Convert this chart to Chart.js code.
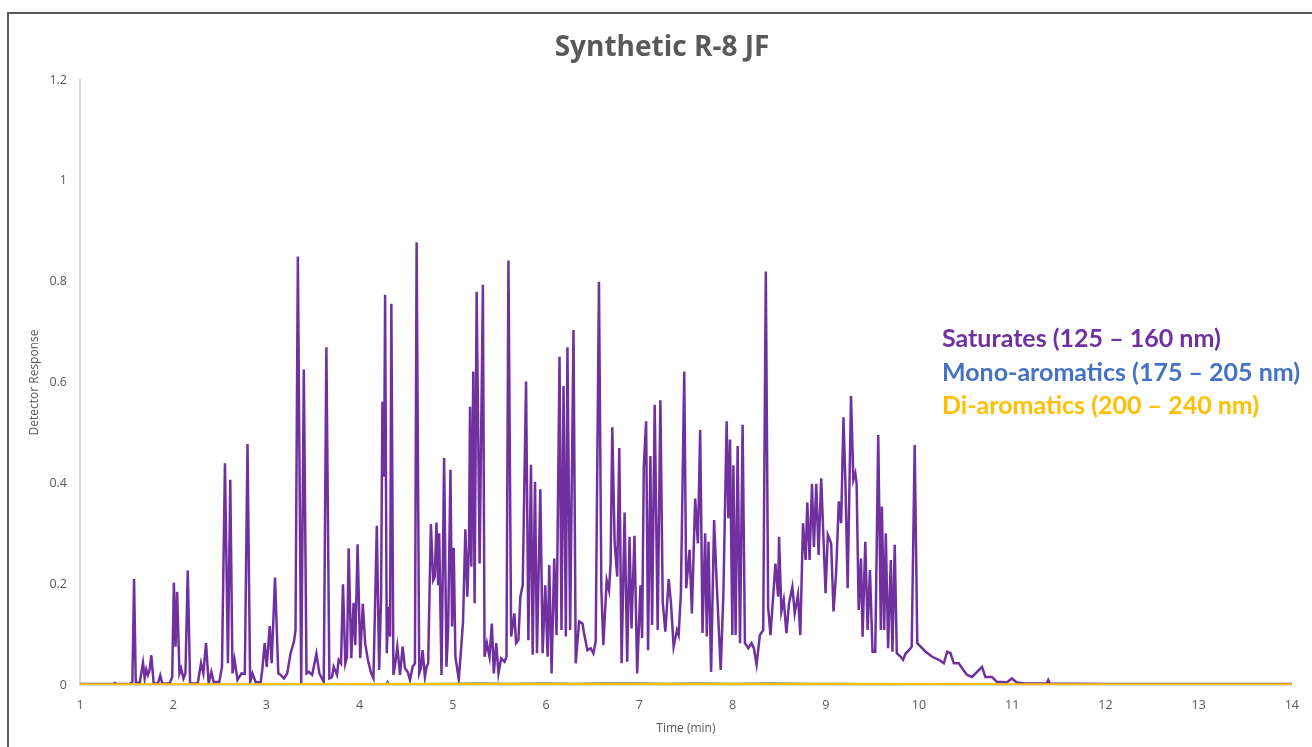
<!DOCTYPE html>
<html>
<head>
<meta charset="utf-8">
<script src="https://cdn.jsdelivr.net/npm/chart.js@4.4.1/dist/chart.umd.min.js"></script>
<style>
  html, body { margin: 0; padding: 0; background: #fff; }
  #wrap { position: relative; width: 1312px; height: 747px; overflow: hidden; }
  #frame { position: absolute; left: 7px; top: 12px; right: -10px; bottom: -10px;
           border-left: 2px solid #595959; border-top: 2px solid #595959; }
  #chartCanvas { position: absolute; left: 0; top: 0; }
  #title { position: absolute; left: 0; width: 1324px; top: 28px; text-align: center;
           font: bold 28px "Open Sans", sans-serif; color: #595959; line-height: 34px; }
  #legend { position: absolute; left: 942px; top: 321px;
            font: bold 25px Lato, "Open Sans", sans-serif; line-height: 33.5px; }
  #legend div { white-space: nowrap; }
</style>
</head>
<body>
<div id="wrap">
  <div id="frame"></div>
  <canvas id="chartCanvas" width="1312" height="747"></canvas>
  <div id="title">Synthetic R-8 JF</div>
  <div id="legend">
    <div style="color:#7030A0">Saturates (125 – 160 nm)</div>
    <div style="color:#4472C4">Mono-aromatics (175 – 205 nm)</div>
    <div style="color:#FFC000">Di-aromatics (200 – 240 nm)</div>
  </div>
</div>
<script>
// ---- data: time (min) -> detector response
const satTime = [
  1.000, 1.356, 1.374, 1.391, 1.534, 1.562, 1.580, 1.598, 1.640, 1.676,
  1.694, 1.711, 1.729, 1.747, 1.765, 1.790, 1.836, 1.861, 1.882, 1.961,
  1.989, 2.007, 2.025, 2.042, 2.067, 2.085, 2.110, 2.131, 2.156, 2.181,
  2.263, 2.298, 2.323, 2.352, 2.380, 2.409, 2.434, 2.494, 2.523, 2.555,
  2.587, 2.612, 2.636, 2.658, 2.690, 2.732, 2.768, 2.797, 2.825, 2.850,
  2.885, 2.939, 2.957, 2.981, 3.003, 3.035, 3.056, 3.092, 3.127, 3.152,
  3.188, 3.223, 3.259, 3.295, 3.312, 3.337, 3.373, 3.401, 3.430, 3.455,
  3.490, 3.536, 3.568, 3.615, 3.643, 3.675, 3.704, 3.721, 3.757, 3.775,
  3.800, 3.821, 3.846, 3.864, 3.882, 3.910, 3.935, 3.953, 3.978, 4.006,
  4.034, 4.059, 4.088, 4.123, 4.148, 4.184, 4.209, 4.230, 4.244, 4.262,
  4.273, 4.291, 4.308, 4.326, 4.340, 4.362, 4.380, 4.404, 4.433, 4.461,
  4.486, 4.515, 4.540, 4.568, 4.593, 4.611, 4.639, 4.657, 4.675, 4.700,
  4.718, 4.735, 4.764, 4.789, 4.806, 4.824, 4.842, 4.853, 4.878, 4.906,
  4.931, 4.949, 4.974, 4.991, 5.009, 5.027, 5.063, 5.091, 5.109, 5.134,
  5.155, 5.173, 5.184, 5.198, 5.219, 5.233, 5.255, 5.287, 5.322, 5.340,
  5.365, 5.393, 5.418, 5.439, 5.465, 5.489, 5.518, 5.554, 5.575, 5.596,
  5.625, 5.660, 5.678, 5.703, 5.724, 5.749, 5.785, 5.810, 5.838, 5.856,
  5.881, 5.902, 5.938, 5.963, 5.991, 6.016, 6.034, 6.059, 6.087, 6.112,
  6.144, 6.165, 6.187, 6.212, 6.229, 6.258, 6.294, 6.318, 6.354, 6.390,
  6.407, 6.443, 6.478, 6.507, 6.532, 6.567, 6.593, 6.614, 6.650, 6.675,
  6.692, 6.710, 6.735, 6.763, 6.785, 6.810, 6.842, 6.870, 6.895, 6.916,
  6.948, 6.977, 7.012, 7.030, 7.048, 7.073, 7.094, 7.119, 7.137, 7.165,
  7.197, 7.226, 7.251, 7.279, 7.315, 7.340, 7.368, 7.404, 7.422, 7.446,
  7.482, 7.503, 7.539, 7.564, 7.599, 7.628, 7.653, 7.678, 7.706, 7.724,
  7.742, 7.770, 7.802, 7.831, 7.873, 7.902, 7.937, 7.955, 7.973, 7.998,
  8.009, 8.033, 8.055, 8.080, 8.108, 8.133, 8.169, 8.204, 8.229, 8.258,
  8.293, 8.329, 8.357, 8.382, 8.407, 8.428, 8.460, 8.489, 8.499, 8.524,
  8.549, 8.578, 8.606, 8.642, 8.667, 8.702, 8.727, 8.756, 8.784, 8.802,
  8.827, 8.852, 8.873, 8.898, 8.923, 8.951, 8.998, 9.022, 9.058, 9.083,
  9.111, 9.140, 9.165, 9.190, 9.210, 9.235, 9.271, 9.296, 9.317, 9.331,
  9.353, 9.378, 9.395, 9.424, 9.449, 9.474, 9.502, 9.531, 9.563, 9.591,
  9.602, 9.627, 9.644, 9.669, 9.698, 9.715, 9.740, 9.762, 9.804, 9.829,
  9.858, 9.893, 9.922, 9.954, 9.982, 10.018, 10.071, 10.142, 10.213, 10.267,
  10.302, 10.338, 10.374, 10.427, 10.463, 10.516, 10.569, 10.623, 10.676, 10.712,
  10.783, 10.836, 10.889, 10.943, 10.996, 11.050, 11.138, 11.210, 11.370, 11.387,
  11.405, 12.000, 14.000
];
const satResp = [
  0.002, 0.002, 0.004, 0.002, 0.002, 0.006, 0.210, 0.006, 0.003, 0.044,
  0.013, 0.031, 0.020, 0.030, 0.059, 0.003, 0.003, 0.019, 0.003, 0.003,
  0.016, 0.203, 0.076, 0.185, 0.023, 0.033, 0.013, 0.023, 0.227, 0.003,
  0.003, 0.043, 0.023, 0.083, 0.003, 0.026, 0.006, 0.006, 0.036, 0.440,
  0.043, 0.407, 0.023, 0.050, 0.010, 0.023, 0.022, 0.478, 0.006, 0.023,
  0.005, 0.006, 0.033, 0.083, 0.036, 0.117, 0.043, 0.213, 0.023, 0.020,
  0.013, 0.023, 0.063, 0.086, 0.109, 0.850, 0.003, 0.626, 0.023, 0.026,
  0.020, 0.062, 0.023, 0.006, 0.670, 0.013, 0.016, 0.036, 0.020, 0.050,
  0.043, 0.200, 0.043, 0.056, 0.271, 0.053, 0.163, 0.079, 0.279, 0.053,
  0.161, 0.083, 0.050, 0.023, 0.013, 0.316, 0.030, 0.175, 0.562, 0.413,
  0.774, 0.063, 0.155, 0.096, 0.756, 0.020, 0.040, 0.076, 0.020, 0.076,
  0.033, 0.026, 0.010, 0.036, 0.043, 0.878, 0.023, 0.033, 0.069, 0.016,
  0.036, 0.043, 0.319, 0.208, 0.215, 0.322, 0.198, 0.301, 0.020, 0.450,
  0.036, 0.109, 0.427, 0.116, 0.272, 0.056, 0.011, 0.079, 0.126, 0.309,
  0.175, 0.281, 0.552, 0.235, 0.622, 0.162, 0.780, 0.241, 0.794, 0.056,
  0.083, 0.056, 0.122, 0.023, 0.083, 0.023, 0.053, 0.046, 0.056, 0.842,
  0.096, 0.142, 0.083, 0.089, 0.175, 0.198, 0.602, 0.089, 0.437, 0.060,
  0.403, 0.063, 0.388, 0.063, 0.198, 0.056, 0.238, 0.023, 0.251, 0.099,
  0.651, 0.109, 0.593, 0.096, 0.670, 0.109, 0.704, 0.043, 0.126, 0.122,
  0.103, 0.069, 0.073, 0.063, 0.086, 0.800, 0.188, 0.079, 0.208, 0.188,
  0.241, 0.511, 0.284, 0.215, 0.470, 0.043, 0.342, 0.046, 0.294, 0.112,
  0.296, 0.023, 0.198, 0.093, 0.433, 0.523, 0.069, 0.454, 0.119, 0.556,
  0.109, 0.565, 0.165, 0.106, 0.210, 0.162, 0.076, 0.109, 0.099, 0.182,
  0.622, 0.192, 0.268, 0.142, 0.370, 0.281, 0.506, 0.103, 0.301, 0.096,
  0.284, 0.026, 0.327, 0.198, 0.030, 0.182, 0.523, 0.331, 0.487, 0.099,
  0.436, 0.099, 0.474, 0.083, 0.516, 0.083, 0.073, 0.083, 0.073, 0.040,
  0.099, 0.109, 0.820, 0.155, 0.099, 0.155, 0.241, 0.175, 0.294, 0.146,
  0.169, 0.103, 0.162, 0.195, 0.142, 0.179, 0.099, 0.321, 0.248, 0.362,
  0.248, 0.399, 0.274, 0.399, 0.258, 0.410, 0.182, 0.298, 0.281, 0.146,
  0.222, 0.364, 0.321, 0.531, 0.407, 0.192, 0.573, 0.407, 0.420, 0.400,
  0.149, 0.251, 0.096, 0.284, 0.109, 0.228, 0.066, 0.066, 0.496, 0.109,
  0.354, 0.109, 0.301, 0.073, 0.248, 0.066, 0.278, 0.063, 0.056, 0.050,
  0.063, 0.069, 0.076, 0.476, 0.083, 0.076, 0.066, 0.056, 0.050, 0.043,
  0.066, 0.063, 0.043, 0.043, 0.033, 0.020, 0.016, 0.026, 0.036, 0.016,
  0.016, 0.006, 0.006, 0.005, 0.013, 0.005, 0.003, 0.003, 0.003, 0.010,
  0.003, 0.002, 0.002
];

const monoTime = [1, 2, 3, 4, 4.28, 4.30, 4.32, 5, 5.3, 5.6, 6, 6.3, 6.6, 7, 7.3, 7.6, 8, 8.4, 8.8, 9.2, 9.6, 10, 11, 12, 13, 14];
const monoResp = [0.001, 0.001, 0.001, 0.002, 0.002, 0.008, 0.002, 0.003, 0.004, 0.003, 0.004, 0.003, 0.004, 0.004, 0.003, 0.004, 0.003, 0.004, 0.003, 0.003, 0.002, 0.002, 0.001, 0.001, 0.001, 0.001];

const diTime = [1, 3, 5, 7, 9, 11, 14];
const diResp = [0.001, 0.001, 0.002, 0.002, 0.002, 0.001, 0.001];

const xTicks = [1, 14];          // time axis range, step 1
const yTicks = [0, 1.2];         // response axis range, step 0.2

function pairs(xs, ys) { return xs.map((x, i) => ({ x: x, y: ys[i] })); }

const axisFont = { family: '"Open Sans", sans-serif', size: 12.5 };
const grey = '#595959';

new Chart(document.getElementById('chartCanvas'), {
  type: 'line',
  data: {
    datasets: [
      { label: 'Saturates (125 – 160 nm)', data: pairs(satTime, satResp),
        borderColor: '#7030A0', borderWidth: 2.5, pointRadius: 0, tension: 0, order: 3 },
      { label: 'Mono-aromatics (175 – 205 nm)', data: pairs(monoTime, monoResp),
        borderColor: '#4472C4', borderWidth: 1.5, pointRadius: 0, tension: 0, order: 2 },
      { label: 'Di-aromatics (200 – 240 nm)', data: pairs(diTime, diResp),
        borderColor: '#FFC000', borderWidth: 2.5, pointRadius: 0, tension: 0, order: 1 }
    ]
  },
  options: {
    responsive: false,
    animation: false,
    devicePixelRatio: 1,
    layout: { padding: { left: 0, right: 14, top: 80, bottom: 0 } },
    plugins: { legend: { display: false }, tooltip: { enabled: false } },
    scales: {
      x: {
        type: 'linear', min: xTicks[0], max: xTicks[1],
        ticks: { stepSize: 1, color: grey, font: axisFont, padding: 13, maxRotation: 0 },
        grid: { display: false, drawTicks: false },
        border: { display: true, color: '#d9d9d9', width: 1 },
        title: { display: true, text: 'Time (min)', color: grey, font: { family: '"Open Sans", sans-serif', size: 12 }, padding: { top: 4, bottom: 11 } },
        afterFit(scale) { scale.height = 62; }
      },
      y: {
        min: yTicks[0], max: yTicks[1],
        ticks: { stepSize: 0.2, color: grey, font: axisFont, padding: 13,
                 callback: v => String(Math.round(v * 10) / 10) },
        grid: { display: false, drawTicks: false },
        border: { display: true, color: '#d9d9d9', width: 2 },
        title: { display: true, text: 'Detector Response', color: grey, font: { family: '"Open Sans", sans-serif', size: 12 }, padding: { top: 27, bottom: 4 } },
        afterFit(scale) { scale.width = 80; }
      }
    }
  }
});
</script>
</body>
</html>
